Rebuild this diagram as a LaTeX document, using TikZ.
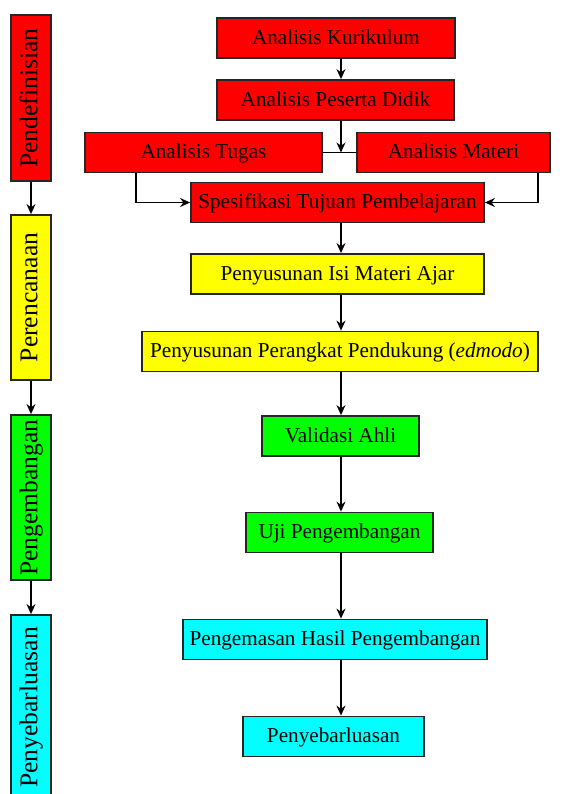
\documentclass[tikz,border=0pt]{standalone}
\usepackage{fontspec}
\setmainfont{Liberation Serif}
\usetikzlibrary{positioning,arrows.meta}
\definecolor{defred}{RGB}{255,0,0}
\definecolor{renyellow}{RGB}{255,255,0}
\definecolor{kemgreen}{RGB}{0,255,0}
\definecolor{sebcyan}{RGB}{0,255,255}

\begin{document}
\begin{tikzpicture}[x=0.5pt,y=-0.5pt,
		kotak/.style={draw=black!85,line width=0.9pt,inner sep=0pt,minimum height=20pt,text height=0.66em,text depth=0.02em,font=\fontsize{10.6}{12}\selectfont},
		tahap/.style={kotak,rotate=90,font=\fontsize{12.8}{14}\selectfont},
		arr/.style={-{Stealth[length=5pt,width=4.5pt]},line width=0.65pt}]
				\useasboundingbox (0,0) rectangle (583,794);
				\clip (0,0) rectangle (583,794);
				% stages (left column)
				\foreach \nm/\cy/\len/\col/\txt in {tdef/98/166/defred/Pendefinisian,tren/297.5/165/renyellow/Perencanaan,tkem/497.5/165/kemgreen/Pengembangan,tseb/707.5/185/sebcyan/Penyebarluasan}{
					\node[tahap,fill=\col,minimum width=\len*0.5pt] (\nm) at (31,\cy) {\txt};
				}
				\foreach \a/\b in {tdef/tren,tren/tkem,tkem/tseb}{
					\draw[arr] (\a.west) -- (\b.east);
				}
				% steps (right column)
				\foreach \nm/\cx/\cy/\w/\col/\txt in {kur/336/38/238/defred/{Analisis Kurikulum},pes/335.5/100/237/defred/{Analisis Peserta Didik},tug/203.5/152.5/237/defred/{Analisis Tugas},mat/453.5/152.5/193/defred/{Analisis Materi},spe/337.5/202.5/293/defred/{Spesifikasi Tujuan Pembelajaran},isi/337.5/274/293/renyellow/{Penyusunan Isi Materi Ajar},per/340/351.5/396/renyellow/{Penyusunan Perangkat Pendukung (\textit{edmodo})},val/340.5/436/157/kemgreen/{Validasi Ahli},uji/339.5/532.5/187/kemgreen/{Uji Pengembangan},hasil/335/639.5/304/sebcyan/{Pengemasan Hasil Pengembangan},sebar/333.5/736.5/181/sebcyan/{Penyebarluasan}}{
					\node[kotak,fill=\col,minimum width=\w*0.5pt] (\nm) at (\cx,\cy) {\txt};
				}
				% connectors
				\coordinate (axis) at (341,0);
				\coordinate (junc) at (341,152.5);
				\foreach \a/\b in {kur/pes,spe/isi,isi/per,per/val,val/uji,uji/hasil,hasil/sebar}{
					\draw[arr] (\a.south -| axis) -- (\b.north -| axis);
				}
				\draw[arr] (pes.south -| axis) -- (junc);
				\draw[line width=0.65pt] (tug.east) -- (mat.west);
				\draw[arr] ([xshift=26pt]tug.south west) |- (spe.west);
				\draw[arr] ([xshift=-6.5pt]mat.south east) |- (spe.east);
			\end{tikzpicture}
\end{document}
